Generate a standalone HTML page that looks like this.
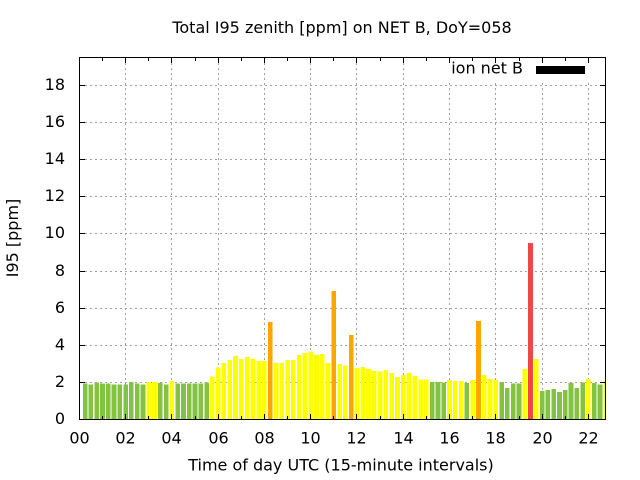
<!DOCTYPE html>
<html><head><meta charset="utf-8"><style>
html,body{margin:0;padding:0;background:#fff;}
svg{display:block;}
text{font-family:"DejaVu Sans","Liberation Sans",sans-serif;font-size:16px;fill:#000;}
</style></head><body>
<svg width="640" height="480" viewBox="0 0 640 480" xmlns="http://www.w3.org/2000/svg">
<rect width="640" height="480" fill="#fff"/>
<!-- grid -->
<g stroke="#a0a0a0" stroke-width="1" stroke-dasharray="2,3" shape-rendering="crispEdges" fill="none">
<line x1="80" x2="605" y1="382.5" y2="382.5"/>
<line x1="80" x2="605" y1="345.5" y2="345.5"/>
<line x1="80" x2="605" y1="308.5" y2="308.5"/>
<line x1="80" x2="605" y1="271.5" y2="271.5"/>
<line x1="80" x2="605" y1="233.5" y2="233.5"/>
<line x1="80" x2="605" y1="196.5" y2="196.5"/>
<line x1="80" x2="605" y1="159.5" y2="159.5"/>
<line x1="80" x2="605" y1="122.5" y2="122.5"/>
<line x1="80" x2="605" y1="85.5" y2="85.5"/>
<line x1="125.5" x2="125.5" y1="58" y2="419"/>
<line x1="171.5" x2="171.5" y1="58" y2="419"/>
<line x1="218.5" x2="218.5" y1="58" y2="419"/>
<line x1="264.5" x2="264.5" y1="58" y2="419"/>
<line x1="310.5" x2="310.5" y1="58" y2="419"/>
<line x1="356.5" x2="356.5" y1="58" y2="419"/>
<line x1="403.5" x2="403.5" y1="58" y2="419"/>
<line x1="449.5" x2="449.5" y1="58" y2="419"/>
<line x1="495.5" x2="495.5" y1="58" y2="419"/>
<line x1="542.5" x2="542.5" y1="58" y2="419"/>
<line x1="588.5" x2="588.5" y1="58" y2="419"/>
</g>
<!-- bars -->
<g shape-rendering="crispEdges">
<rect x="82.77" y="383.33" width="4.63" height="35.97" fill="#82c341"/>
<rect x="88.56" y="384.67" width="4.63" height="34.63" fill="#82c341"/>
<rect x="94.34" y="382.67" width="4.63" height="36.63" fill="#82c341"/>
<rect x="100.13" y="383.67" width="4.63" height="35.63" fill="#82c341"/>
<rect x="105.91" y="383.67" width="4.63" height="35.63" fill="#82c341"/>
<rect x="111.70" y="384.67" width="4.63" height="34.63" fill="#82c341"/>
<rect x="117.48" y="384.67" width="4.63" height="34.63" fill="#82c341"/>
<rect x="123.27" y="384.67" width="4.63" height="34.63" fill="#82c341"/>
<rect x="129.05" y="382" width="4.63" height="37.3" fill="#82c341"/>
<rect x="134.84" y="383.67" width="4.63" height="35.63" fill="#82c341"/>
<rect x="140.62" y="384.67" width="4.63" height="34.63" fill="#82c341"/>
<rect x="146.41" y="382" width="4.63" height="37.3" fill="#ffff00"/>
<rect x="152.19" y="382" width="4.63" height="37.3" fill="#ffff00"/>
<rect x="157.98" y="383" width="4.63" height="36.3" fill="#82c341"/>
<rect x="163.76" y="384.67" width="4.63" height="34.63" fill="#82c341"/>
<rect x="169.55" y="381" width="4.63" height="38.3" fill="#ffff00"/>
<rect x="175.33" y="383.67" width="4.63" height="35.63" fill="#82c341"/>
<rect x="181.12" y="383.67" width="4.63" height="35.63" fill="#82c341"/>
<rect x="186.90" y="383.67" width="4.63" height="35.63" fill="#82c341"/>
<rect x="192.69" y="383.67" width="4.63" height="35.63" fill="#82c341"/>
<rect x="198.47" y="383.67" width="4.63" height="35.63" fill="#82c341"/>
<rect x="204.26" y="382.67" width="4.63" height="36.63" fill="#82c341"/>
<rect x="210.04" y="376.67" width="4.63" height="42.63" fill="#ffff00"/>
<rect x="215.83" y="367.67" width="4.63" height="51.63" fill="#ffff00"/>
<rect x="221.61" y="363" width="4.63" height="56.3" fill="#ffff00"/>
<rect x="227.40" y="360" width="4.63" height="59.3" fill="#ffff00"/>
<rect x="233.18" y="356" width="4.63" height="63.3" fill="#ffff00"/>
<rect x="238.97" y="359" width="4.63" height="60.3" fill="#ffff00"/>
<rect x="244.75" y="357" width="4.63" height="62.3" fill="#ffff00"/>
<rect x="250.54" y="359" width="4.63" height="60.3" fill="#ffff00"/>
<rect x="256.32" y="361" width="4.63" height="58.3" fill="#ffff00"/>
<rect x="262.11" y="361" width="4.63" height="58.3" fill="#ffff00"/>
<rect x="267.89" y="322" width="4.63" height="97.3" fill="#ffa500"/>
<rect x="273.68" y="363" width="4.63" height="56.3" fill="#ffff00"/>
<rect x="279.46" y="363" width="4.63" height="56.3" fill="#ffff00"/>
<rect x="285.25" y="360" width="4.63" height="59.3" fill="#ffff00"/>
<rect x="291.03" y="360" width="4.63" height="59.3" fill="#ffff00"/>
<rect x="296.82" y="355" width="4.63" height="64.3" fill="#ffff00"/>
<rect x="302.60" y="353" width="4.63" height="66.3" fill="#ffff00"/>
<rect x="308.39" y="351.67" width="4.63" height="67.63" fill="#ffff00"/>
<rect x="314.17" y="355" width="4.63" height="64.3" fill="#ffff00"/>
<rect x="319.96" y="354" width="4.63" height="65.3" fill="#ffff00"/>
<rect x="325.74" y="363" width="4.63" height="56.3" fill="#ffff00"/>
<rect x="331.53" y="291" width="4.63" height="128.3" fill="#ffa500"/>
<rect x="337.31" y="364" width="4.63" height="55.3" fill="#ffff00"/>
<rect x="343.10" y="365.67" width="4.63" height="53.63" fill="#ffff00"/>
<rect x="348.88" y="335" width="4.63" height="84.3" fill="#ffa500"/>
<rect x="354.67" y="368" width="4.63" height="51.3" fill="#ffff00"/>
<rect x="360.45" y="367" width="4.63" height="52.3" fill="#ffff00"/>
<rect x="366.24" y="369" width="4.63" height="50.3" fill="#ffff00"/>
<rect x="372.02" y="371" width="4.63" height="48.3" fill="#ffff00"/>
<rect x="377.81" y="371.67" width="4.63" height="47.63" fill="#ffff00"/>
<rect x="383.59" y="370" width="4.63" height="49.3" fill="#ffff00"/>
<rect x="389.38" y="373" width="4.63" height="46.3" fill="#ffff00"/>
<rect x="395.16" y="377" width="4.63" height="42.3" fill="#ffff00"/>
<rect x="400.95" y="375" width="4.63" height="44.3" fill="#ffff00"/>
<rect x="406.73" y="373" width="4.63" height="46.3" fill="#ffff00"/>
<rect x="412.52" y="376" width="4.63" height="43.3" fill="#ffff00"/>
<rect x="418.30" y="379.67" width="4.63" height="39.63" fill="#ffff00"/>
<rect x="424.09" y="379.67" width="4.63" height="39.63" fill="#ffff00"/>
<rect x="429.87" y="382" width="4.63" height="37.3" fill="#82c341"/>
<rect x="435.66" y="382" width="4.63" height="37.3" fill="#82c341"/>
<rect x="441.44" y="382.67" width="4.63" height="36.63" fill="#82c341"/>
<rect x="447.23" y="380" width="4.63" height="39.3" fill="#ffff00"/>
<rect x="453.01" y="381" width="4.63" height="38.3" fill="#ffff00"/>
<rect x="458.80" y="381" width="4.63" height="38.3" fill="#ffff00"/>
<rect x="464.58" y="383" width="4.63" height="36.3" fill="#82c341"/>
<rect x="470.37" y="380" width="4.63" height="39.3" fill="#ffff00"/>
<rect x="476.15" y="321" width="4.63" height="98.3" fill="#ffa500"/>
<rect x="481.94" y="375" width="4.63" height="44.3" fill="#ffff00"/>
<rect x="487.72" y="379" width="4.63" height="40.3" fill="#ffff00"/>
<rect x="493.51" y="380" width="4.63" height="39.3" fill="#ffff00"/>
<rect x="499.29" y="382" width="4.63" height="37.3" fill="#82c341"/>
<rect x="505.08" y="388" width="4.63" height="31.3" fill="#82c341"/>
<rect x="510.86" y="383.67" width="4.63" height="35.63" fill="#82c341"/>
<rect x="516.65" y="383.67" width="4.63" height="35.63" fill="#82c341"/>
<rect x="522.43" y="369" width="4.63" height="50.3" fill="#ffff00"/>
<rect x="528.22" y="243" width="4.63" height="176.3" fill="#ef4646"/>
<rect x="534.00" y="359" width="4.63" height="60.3" fill="#ffff00"/>
<rect x="539.79" y="391" width="4.63" height="28.3" fill="#82c341"/>
<rect x="545.57" y="390" width="4.63" height="29.3" fill="#82c341"/>
<rect x="551.36" y="389" width="4.63" height="30.3" fill="#82c341"/>
<rect x="557.14" y="392" width="4.63" height="27.3" fill="#82c341"/>
<rect x="562.93" y="390" width="4.63" height="29.3" fill="#82c341"/>
<rect x="568.71" y="383" width="4.63" height="36.3" fill="#82c341"/>
<rect x="574.50" y="388" width="4.63" height="31.3" fill="#82c341"/>
<rect x="580.28" y="382.67" width="4.63" height="36.63" fill="#82c341"/>
<rect x="586.07" y="379" width="4.63" height="40.3" fill="#ffff00"/>
<rect x="591.85" y="383" width="4.63" height="36.3" fill="#82c341"/>
<rect x="597.64" y="384.67" width="4.63" height="34.63" fill="#82c341"/>
<rect x="603.42" y="381" width="2.3" height="38.3" fill="#ffff00"/>
</g>
<!-- key background -->
<rect x="445" y="58" width="155" height="24" fill="#fff"/>
<!-- border & ticks -->
<g stroke="#000" stroke-width="1" shape-rendering="crispEdges" fill="none">
<rect x="79.5" y="57.5" width="526" height="362"/>
<path d="M80 382.5h5M80 345.5h5M80 308.5h5M80 271.5h5M80 233.5h5M80 196.5h5M80 159.5h5M80 122.5h5M80 85.5h5"/>
<path d="M605 382.5h-5M605 345.5h-5M605 308.5h-5M605 271.5h-5M605 233.5h-5M605 196.5h-5M605 159.5h-5M605 122.5h-5M605 85.5h-5"/>
<path d="M125.5 419v-5M171.5 419v-5M218.5 419v-5M264.5 419v-5M310.5 419v-5M356.5 419v-5M403.5 419v-5M449.5 419v-5M495.5 419v-5M542.5 419v-5M588.5 419v-5"/>
<path d="M125.5 58v5M171.5 58v5M218.5 58v5M264.5 58v5M310.5 58v5M356.5 58v5M403.5 58v5M449.5 58v5M495.5 58v5M542.5 58v5M588.5 58v5"/>
<path d="M102.5 419v-3M148.5 419v-3M195.5 419v-3M241.5 419v-3M287.5 419v-3M333.5 419v-3M380.5 419v-3M426.5 419v-3M472.5 419v-3M519.5 419v-3M565.5 419v-3"/>
<path d="M102.5 58v3M148.5 58v3M195.5 58v3M241.5 58v3M287.5 58v3M333.5 58v3M380.5 58v3M426.5 58v3M472.5 58v3M519.5 58v3M565.5 58v3"/>
</g>
<!-- y tick labels -->
<g text-anchor="end">
<text x="65" y="424">0</text>
<text x="65" y="387">2</text>
<text x="65" y="350">4</text>
<text x="65" y="313">6</text>
<text x="65" y="276">8</text>
<text x="65" y="238">10</text>
<text x="65" y="201">12</text>
<text x="65" y="164">14</text>
<text x="65" y="127">16</text>
<text x="65" y="90">18</text>
</g>
<!-- x tick labels -->
<g text-anchor="middle">
<text x="79.5" y="443.5">00</text>
<text x="125.5" y="443.5">02</text>
<text x="171.5" y="443.5">04</text>
<text x="218.5" y="443.5">06</text>
<text x="264.5" y="443.5">08</text>
<text x="310.5" y="443.5">10</text>
<text x="356.5" y="443.5">12</text>
<text x="403.5" y="443.5">14</text>
<text x="449.5" y="443.5">16</text>
<text x="495.5" y="443.5">18</text>
<text x="542.5" y="443.5">20</text>
<text x="588.5" y="443.5">22</text>
</g>
<!-- titles -->
<text x="342" y="33" text-anchor="middle">Total I95 zenith [ppm] on NET B, DoY=058</text>
<text x="341" y="470.5" text-anchor="middle">Time of day UTC (15-minute intervals)</text>
<text x="18" y="238" text-anchor="middle" transform="rotate(-90 18 238)">I95 [ppm]</text>
<!-- legend -->
<text x="523" y="73.5" text-anchor="end">ion net B</text>
<rect x="536" y="66" width="49" height="8" fill="#000" shape-rendering="crispEdges"/>
</svg>
</body></html>
